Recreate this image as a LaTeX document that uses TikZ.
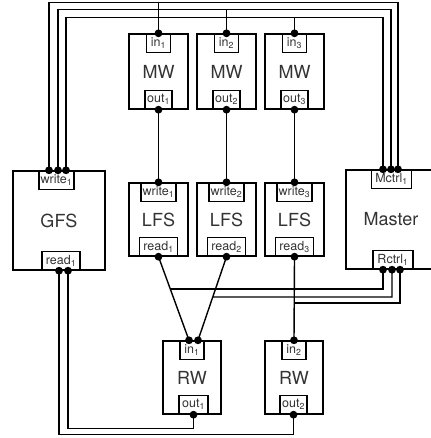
\documentclass[tikz,border=0pt]{standalone}
\usepackage{fontspec}
\setmainfont{TeX Gyre Heros}
\usetikzlibrary{calc}
\newcommand\psub[1]{\textsubscript{#1}}
\begin{document}
\begin{tikzpicture}[x=1pt,y=-1pt,
  box/.style 2 args={draw,line width=1.4pt,minimum width=#1,minimum height=#2,inner sep=0pt,
    font=\fontsize{18}{18}\selectfont,text=black!80},
  port/.style={draw,fill=white,line width=1.4pt,minimum width=#1,minimum height=18.5pt,inner sep=0pt,
    font=\fontsize{12.5}{12.5}\selectfont,text=black!80},
  wire/.style={line width=1.4pt},
  jdot/.style={circle,fill=black,inner sep=0pt,minimum size=7.8pt}]
\useasboundingbox (0,0) rectangle (430,438);

% main boxes
\node[box={92}{99}] (gfs) at (59,220.5) {GFS};
\node[box={59}{75}] (mw1) at (158.5,71.5) {MW};
\node[box={59}{75}] (mw2) at (226.5,71.5) {MW};
\node[box={59}{75}] (mw3) at (294.5,71.5) {MW};
\node[box={59}{73}] (lfs1) at (158.5,219.5) {LFS};
\node[box={59}{73}] (lfs2) at (226.5,219.5) {LFS};
\node[box={59}{73}] (lfs3) at (294.5,219.5) {LFS};
\node[box={90}{99}] (master) at (391,219.5) {Master};
\node[box={58}{73}] (rw1) at (192,377.5) {RW};
\node[box={58}{73}] (rw2) at (294,377.5) {RW};

% ports
\node[port=35,anchor=north] (gw) at ($(gfs.north)+(-2.5,0)$) {write\psub{1}};
\node[port=38,anchor=south] (gr) at ($(gfs.south)+(2,0)$) {read\psub{1}};
\node[port=24,anchor=north] (in1) at (mw1.north) {in\psub{1}};
\node[port=24,anchor=north] (in2) at (mw2.north) {in\psub{2}};
\node[port=24,anchor=north] (in3) at (mw3.north) {in\psub{3}};
\node[port=27,anchor=south] (out1) at (mw1.south) {out\psub{1}};
\node[port=27,anchor=south] (out2) at (mw2.south) {out\psub{2}};
\node[port=27,anchor=south] (out3) at (mw3.south) {out\psub{3}};
\node[port=35,anchor=north] (lw1) at (lfs1.north) {write\psub{1}};
\node[port=35,anchor=north] (lw2) at (lfs2.north) {write\psub{2}};
\node[port=35,anchor=north] (lw3) at (lfs3.north) {write\psub{3}};
\node[port=38,anchor=south] (lr1) at (lfs1.south) {read\psub{1}};
\node[port=38,anchor=south] (lr2) at (lfs2.south) {read\psub{2}};
\node[port=38,anchor=south] (lr3) at (lfs3.south) {read\psub{3}};
\node[port=40,anchor=north] (mc) at ($(master.north)+(0.5,0)$) {Mctrl\psub{1}};
\node[port=40,anchor=south] (rc) at ($(master.south)+(2,0)$) {Rctrl\psub{1}};
\node[port=24,anchor=north] (ri1) at (rw1.north) {in\psub{1}};
\node[port=24,anchor=north] (ri2) at (rw2.north) {in\psub{2}};
\node[port=29,anchor=south] (ro1) at ($(rw1.south)+(1.5,0)$) {out\psub{1}};
\node[port=27,anchor=south] (ro2) at ($(rw2.south)+(-0.5,0)$) {out\psub{2}};

% junction coordinates
\coordinate (gw1) at ($(gw.north)+(-7.5,0)$);
\coordinate (gw2) at ($(gw.north)+(1.5,0)$);
\coordinate (gw3) at ($(gw.north)+(9.5,0)$);
\coordinate (mc1) at ($(mc.north)+(-8.5,0)$);
\coordinate (mc2) at ($(mc.north)+(-0.5,0)$);
\coordinate (mc3) at ($(mc.north)+(6.5,0)$);
\coordinate (rc1) at ($(rc.south)+(-10,0)$);
\coordinate (rc2) at ($(rc.south)+(-1,0)$);
\coordinate (rc3) at ($(rc.south)+(7,0)$);
\coordinate (gr1) at ($(gr.south)+(-2,0)$);
\coordinate (gr2) at ($(gr.south)+(7,0)$);
\coordinate (ri1a) at ($(ri1.north)+(-3,0)$);
\coordinate (ri1b) at ($(ri1.north)+(6,0)$);
\coordinate (lr1d) at (lr1.south);
\coordinate (lr2d) at (lr2.south);
\coordinate (lr3d) at (lr3.south);
\coordinate (ri2d) at (ri2.north);

% routing levels
\coordinate (yA) at (0,2.3);
\coordinate (yB) at (0,9.8);
\coordinate (yC) at (0,17.3);
\coordinate (yD) at (0,289);
\coordinate (yD2) at (430,289);
\coordinate (yE) at (0,297);
\coordinate (yE2) at (430,297);
\coordinate (yF) at (0,303);
\coordinate (yG) at (0,428.5);
\coordinate (yH) at (0,434.5);

% top control wires
\draw[wire] (gw1) -- (gw1 |- yA) -| (mc3);
\draw[wire] (gw2) -- (gw2 |- yB) -| (mc2);
\draw[wire] (gw3) -- (gw3 |- yC) -| (mc1);
\draw[wire] (in1.north) -- (in1.north |- yA);
\draw[wire] (in2.north) -- (in2.north |- yB);
\draw[wire] (in3.north) -- (in3.north |- yC);

% MW -> LFS
\draw[wire] (out1.south) -- (lw1.north);
\draw[wire] (out2.south) -- (lw2.north);
\draw[wire] (out3.south) -- (lw3.north);

% LFS -> RW
\draw[wire] (lr1d) -- (ri1a);
\draw[wire] (lr2d) -- (ri1b);
\draw[wire] (lr3d) -- (ri2d);

% Rctrl wires
\draw[wire] (rc1) -- (rc1 |- yD) -- (intersection of lr1d--ri1a and yD--yD2);
\draw[wire] (rc2) -- (rc2 |- yE) -- (intersection of lr2d--ri1b and yE--yE2);
\draw[wire] (rc3) -- (rc3 |- yF) -- (lr3d |- yF);

% RW -> GFS
\draw[wire] (ro1.south) -- (ro1.south |- yG) -| (gr2);
\draw[wire] (ro2.south) -- (ro2.south |- yH) -| (gr1);

% dots
\foreach \p in {gw1,gw2,gw3,mc1,mc2,mc3,rc1,rc2,rc3,gr1,gr2,ri1a,ri1b,lr1d,lr2d,lr3d,ri2d,
                in1.north,in2.north,in3.north,out1.south,out2.south,out3.south,
                lw1.north,lw2.north,lw3.north,ro1.south,ro2.south}
  \node[jdot] at (\p) {};
\end{tikzpicture}
\end{document}
